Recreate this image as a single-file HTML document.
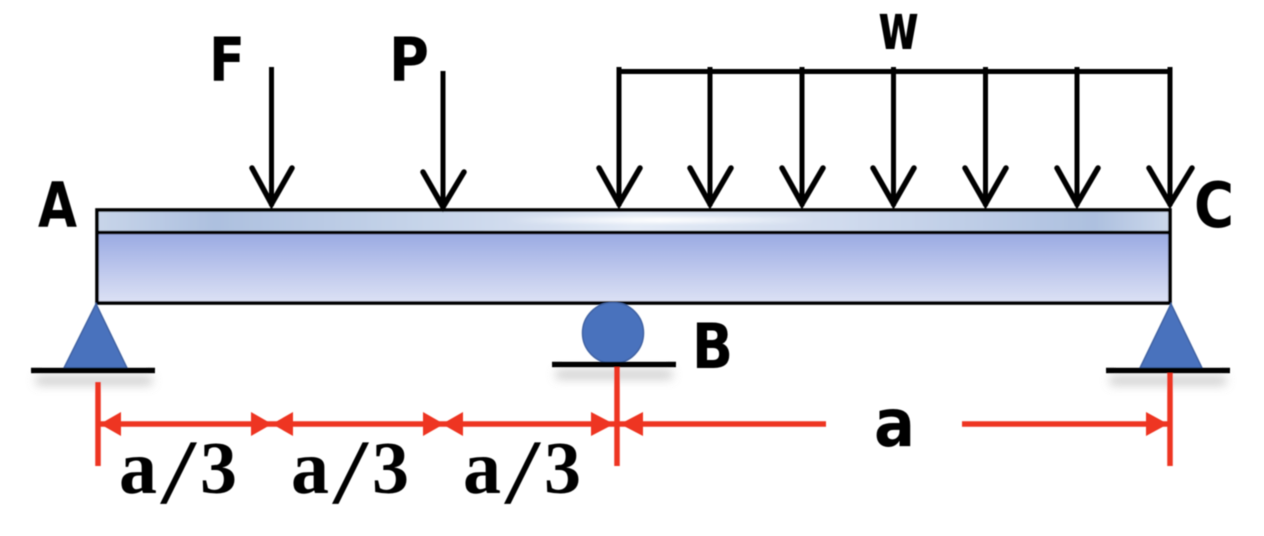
<!DOCTYPE html>
<html>
<head>
<meta charset="utf-8">
<style>
html,body{margin:0;padding:0;background:#fff;width:1264px;height:536px;overflow:hidden}
svg{display:block}
.l{font-family:"DejaVu Sans","Liberation Sans",sans-serif;font-weight:bold;fill:#000}
.s{font-family:"Liberation Serif",serif;font-weight:bold;fill:#000}
.t{font-family:"Liberation Serif",serif;font-weight:normal;fill:#000}
</style>
</head>
<body>
<svg width="1264" height="536" viewBox="0 0 1264 536" xmlns="http://www.w3.org/2000/svg">
<defs>
<linearGradient id="top" x1="0" x2="1" y1="0" y2="0">
<stop offset="0" stop-color="#c8d5e9"/>
<stop offset="0.11" stop-color="#adc0df"/>
<stop offset="0.3" stop-color="#c6d4e9"/>
<stop offset="0.42" stop-color="#d5dff0"/>
<stop offset="0.5" stop-color="#e4ebf6"/>
<stop offset="0.7" stop-color="#cfdaed"/>
<stop offset="0.93" stop-color="#adc0df"/>
<stop offset="1" stop-color="#ccd8eb"/>
</linearGradient>
<linearGradient id="hl" x1="0" x2="1" y1="0" y2="0">
<stop offset="0.25" stop-color="#fff" stop-opacity="0"/>
<stop offset="0.5" stop-color="#fff" stop-opacity="0.95"/>
<stop offset="0.75" stop-color="#fff" stop-opacity="0"/>
</linearGradient>
<linearGradient id="low" x1="0" x2="0" y1="0" y2="1">
<stop offset="0" stop-color="#99a9e2"/>
<stop offset="1" stop-color="#dde2f5"/>
</linearGradient>
<filter id="b" x="-20%" y="-300%" width="140%" height="700%"><feGaussianBlur stdDeviation="5"/></filter>
<filter id="b2" x="-10%" y="-300%" width="120%" height="700%"><feGaussianBlur stdDeviation="1.500"/></filter>
<filter id="soft" x="0" y="0" width="100%" height="100%" filterUnits="userSpaceOnUse"><feGaussianBlur stdDeviation="0.6"/></filter>
</defs>

<g filter="url(#soft)">
<!-- ground shadows -->
<rect x="36" y="376" width="116" height="9" fill="#aaa" opacity=".6" filter="url(#b)"/>
<rect x="556" y="370" width="116" height="9" fill="#aaa" opacity=".6" filter="url(#b)"/>
<rect x="1110" y="376" width="116" height="9" fill="#aaa" opacity=".6" filter="url(#b)"/>

<!-- beam -->
<rect x="97" y="210" width="1073" height="22" fill="url(#top)"/>
<rect x="350" y="217" width="620" height="6" fill="url(#hl)" filter="url(#b2)"/>
<rect x="97" y="232" width="1073" height="71" fill="url(#low)"/>
<rect x="97" y="210" width="1073" height="93" fill="none" stroke="#000" stroke-width="3.600"/>
<line x1="97" y1="232.500" x2="1170" y2="232.500" stroke="#000" stroke-width="3.600"/>

<!-- supports -->
<polygon points="96,304 64,368 127,368" fill="#4a72bd" stroke="#3f62a3" stroke-width="1.500"/>
<polygon points="1171,304 1140,368 1202,368" fill="#4a72bd" stroke="#3f62a3" stroke-width="1.500"/>
<circle cx="613" cy="333" r="30.500" fill="#4a72bd" stroke="#3f62a3" stroke-width="1.500"/>
<g stroke="#000" stroke-width="5.500">
<line x1="31" y1="370.500" x2="155" y2="370.500"/>
<line x1="552" y1="364.500" x2="676" y2="364.500"/>
<line x1="1106" y1="370.500" x2="1230" y2="370.500"/>
</g>

<!-- loads -->
<g fill="none" stroke="#000" stroke-width="5">
<line x1="271.500" y1="67" x2="271.500" y2="206"/>
<line x1="443" y1="71" x2="443" y2="208"/>
<path d="M619 67V206M710 67V206M802 67V206M893.500 67V206M985.500 67V206M1077 67V206M1170 67V206"/>
<line x1="617" y1="71.500" x2="1172" y2="71.500"/>
</g>
<g fill="none" stroke="#000" stroke-width="5.500" stroke-linecap="round" stroke-linejoin="miter">
<path d="M252 168L271.500 204L292 168"/>
<path d="M423 172L443 207L464 172"/>
<path d="M599 168L619 204L640 168"/>
<path d="M690 168L710 204L731 168"/>
<path d="M782 168L802 204L823 168"/>
<path d="M873 168L893.500 204L914 168"/>
<path d="M965 168L985.500 204L1006 168"/>
<path d="M1057 168L1077 204L1098 168"/>
<path d="M1149 168L1170 204L1192 168"/>
</g>

<!-- dimensions -->
<g stroke="#ee3524" stroke-width="5.500" fill="none">
<line x1="98" y1="382" x2="98" y2="466"/>
<line x1="617" y1="367" x2="617" y2="466"/>
<line x1="1170" y1="373" x2="1170" y2="466"/>
<line x1="100" y1="424" x2="826" y2="424"/>
<line x1="962" y1="424" x2="1168" y2="424"/>
</g>
<g fill="#ee3524">
<polygon points="100,424 121,412 121,436"/>
<polygon points="272,424 251,412 251,436"/>
<polygon points="272,424 293,412 293,436"/>
<polygon points="444,424 423,412 423,436"/>
<polygon points="442,424 463,412 463,436"/>
<polygon points="614,424 591,412 591,436"/>
<polygon points="620,424 643,412 643,436"/>
<polygon points="1168,424 1146,412 1146,436"/>
</g>

<!-- labels -->
<text class="l" x="38" y="227" font-size="62" textLength="39" lengthAdjust="spacingAndGlyphs">A</text>
<text class="l" x="1194" y="227" font-size="62" textLength="40" lengthAdjust="spacingAndGlyphs">C</text>
<text class="l" x="692" y="368" font-size="62" textLength="41" lengthAdjust="spacingAndGlyphs">B</text>
<text class="l" x="209" y="81" font-size="61" textLength="36" lengthAdjust="spacingAndGlyphs">F</text>
<text class="l" x="389" y="81" font-size="61" textLength="40" lengthAdjust="spacingAndGlyphs">P</text>
<text class="l" x="878" y="49" font-size="64" textLength="41" lengthAdjust="spacingAndGlyphs">w</text>
<text class="l" x="874" y="446" font-size="66" textLength="41" lengthAdjust="spacingAndGlyphs">a</text>

<text class="s" x="119" y="493" font-size="76">a</text>
<text class="t" x="160" y="503" font-size="92" textLength="37" lengthAdjust="spacingAndGlyphs">/</text>
<text class="s" x="200" y="493" font-size="74">3</text>

<text class="s" x="291" y="493" font-size="76">a</text>
<text class="t" x="332" y="503" font-size="92" textLength="37" lengthAdjust="spacingAndGlyphs">/</text>
<text class="s" x="372" y="493" font-size="74">3</text>

<text class="s" x="463" y="493" font-size="76">a</text>
<text class="t" x="504" y="503" font-size="92" textLength="37" lengthAdjust="spacingAndGlyphs">/</text>
<text class="s" x="544" y="493" font-size="74">3</text>
</g>
</svg>
</body>
</html>
